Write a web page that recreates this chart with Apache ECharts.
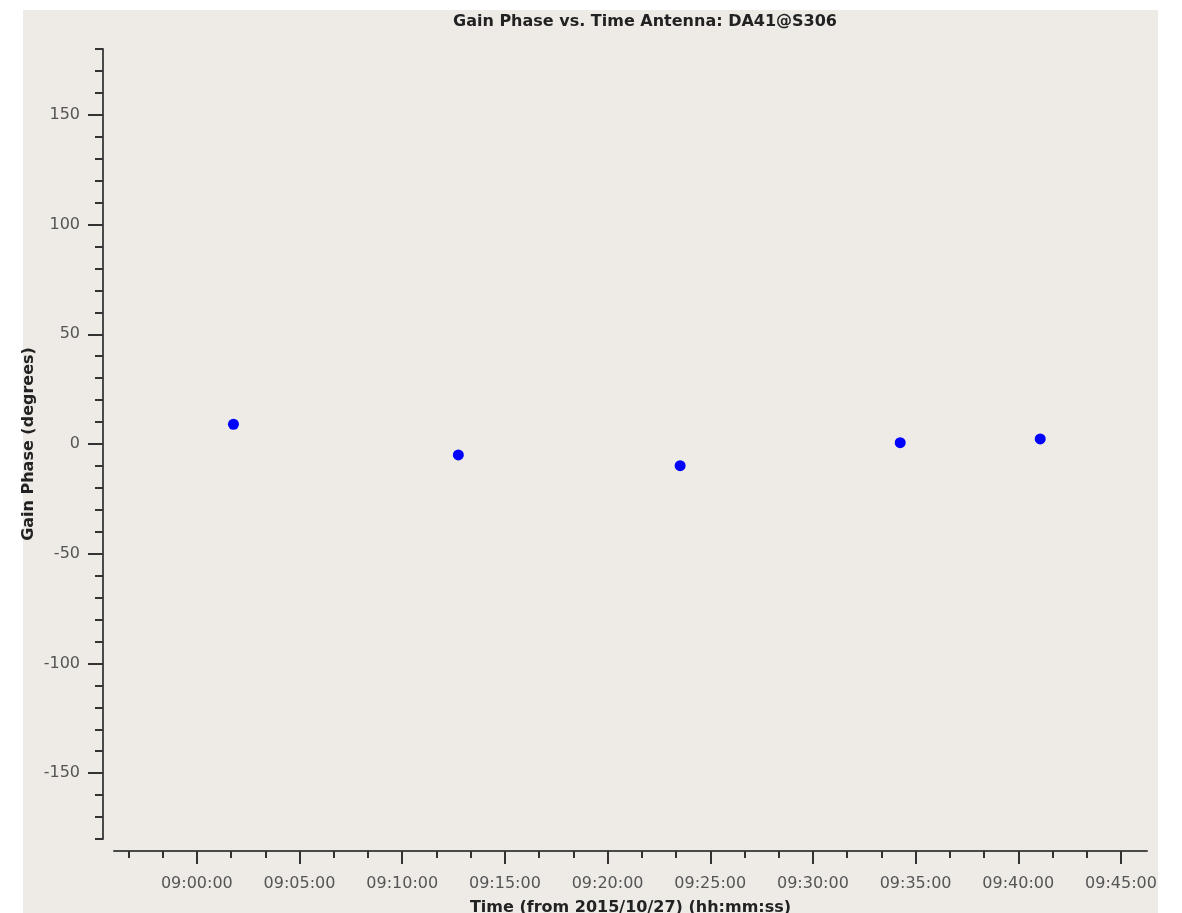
<!DOCTYPE html>
<html>
<head>
<meta charset="utf-8">
<script src="https://cdn.jsdelivr.net/npm/echarts@6/dist/echarts.min.js"></script>
<style>html,body{margin:0;padding:0;background:#fff;}#c{width:1182px;height:913px;}</style>
</head>
<body>
<div id="c"></div>
<script>
// ---- data ----
const times = ["09:01:47", "09:12:44", "09:23:32", "09:34:15", "09:41:04"];
const phases = [9.0, -5.0, -9.9, 0.6, 2.3];
const xTickLabels = ["09:00:00","09:05:00","09:10:00","09:15:00","09:20:00","09:25:00","09:30:00","09:35:00","09:40:00","09:45:00"];
const yTickLabels = [-150, -100, -50, 0, 50, 100, 150];
const xMin = "08:55:58", xMax = "09:46:16";
const yMin = -180, yMax = 180;

function toSec(s){ const p = s.split(':').map(Number); return p[0]*3600 + p[1]*60 + p[2]; }
function fmt(v){ v = Math.round(v); const h = Math.floor(v/3600), m = Math.floor((v%3600)/60), s = v%60;
  return [h,m,s].map(n => String(n).padStart(2,'0')).join(':'); }

const xMajor = xTickLabels.map(toSec);
const xMinor = [];
for (let t = toSec("08:56:40"); t <= toSec(xMax); t += 100) if (!xMajor.includes(t)) xMinor.push(t);
const yMinor = [];
for (let v = yMin; v <= yMax; v += 10) if (v % 50 !== 0) yMinor.push(v);

const points = times.map((t, i) => [toSec(t), phases[i]]);

const chart = echarts.init(document.getElementById('c'), null, {renderer: 'canvas'});
const font = 'DejaVu Sans';
const axisCol = '#4a4a4a';
chart.setOption({
  backgroundColor: '#ffffff',
  animation: false,
  graphic: [{ type: 'rect', z: -10, silent: true, shape: {x: 23, y: 10, width: 1135, height: 903}, style: {fill: '#eeebe7'} }],
  title: {
    text: 'Gain Phase vs. Time Antenna: DA41@S306',
    left: 453, top: 14, padding: 0,
    textStyle: {fontFamily: font, fontSize: 16, fontWeight: 'bold', color: '#222'}
  },
  grid: {left: 114, right: 35, top: 49, bottom: 74, outerBoundsMode: 'none', containLabel: false},
  xAxis: [{
    type: 'value', min: toSec(xMin), max: toSec(xMax), position: 'bottom', offset: 12,
    name: 'Time (from 2015/10/27) (hh:mm:ss)', nameLocation: 'middle', nameGap: 49,
    nameTextStyle: {fontFamily: font, fontSize: 16, fontWeight: 'bold', color: '#222'},
    axisLine: {show: true, onZero: false, lineStyle: {color: axisCol, width: 2}},
    axisTick: {show: true, length: 13, customValues: xMajor, lineStyle: {color: '#333', width: 2}},
    axisLabel: {customValues: xMajor, margin: 25, fontFamily: font, fontSize: 16, color: '#555', formatter: fmt},
    splitLine: {show: false}
  }, {
    type: 'value', min: toSec(xMin), max: toSec(xMax), position: 'bottom', offset: 12,
    axisLine: {show: false, onZero: false},
    axisTick: {show: true, length: 7, customValues: xMinor, lineStyle: {color: '#333', width: 2}},
    axisLabel: {show: false}, splitLine: {show: false}
  }],
  yAxis: [{
    type: 'value', min: yMin, max: yMax, position: 'left', offset: 11,
    name: 'Gain Phase (degrees)', nameLocation: 'middle', nameGap: 66, nameRotate: 90, nameMoveOverlap: false,
    nameTextStyle: {fontFamily: font, fontSize: 16, fontWeight: 'bold', color: '#222'},
    axisLine: {show: true, onZero: false, lineStyle: {color: axisCol, width: 2}},
    axisTick: {show: true, length: 15, customValues: yTickLabels, lineStyle: {color: '#333', width: 2}},
    axisLabel: {customValues: yTickLabels, margin: 23, fontFamily: font, fontSize: 16, color: '#555'},
    splitLine: {show: false}
  }, {
    type: 'value', min: yMin, max: yMax, position: 'left', offset: 11,
    axisLine: {show: false, onZero: false},
    axisTick: {show: true, length: 8, customValues: yMinor, lineStyle: {color: '#333', width: 2}},
    axisLabel: {show: false}, splitLine: {show: false}
  }],
  series: [{
    type: 'scatter', xAxisIndex: 0, yAxisIndex: 0,
    data: points, symbol: 'circle', symbolSize: 11,
    itemStyle: {color: '#0000ff', opacity: 1}
  }]
});
</script>
</body>
</html>
